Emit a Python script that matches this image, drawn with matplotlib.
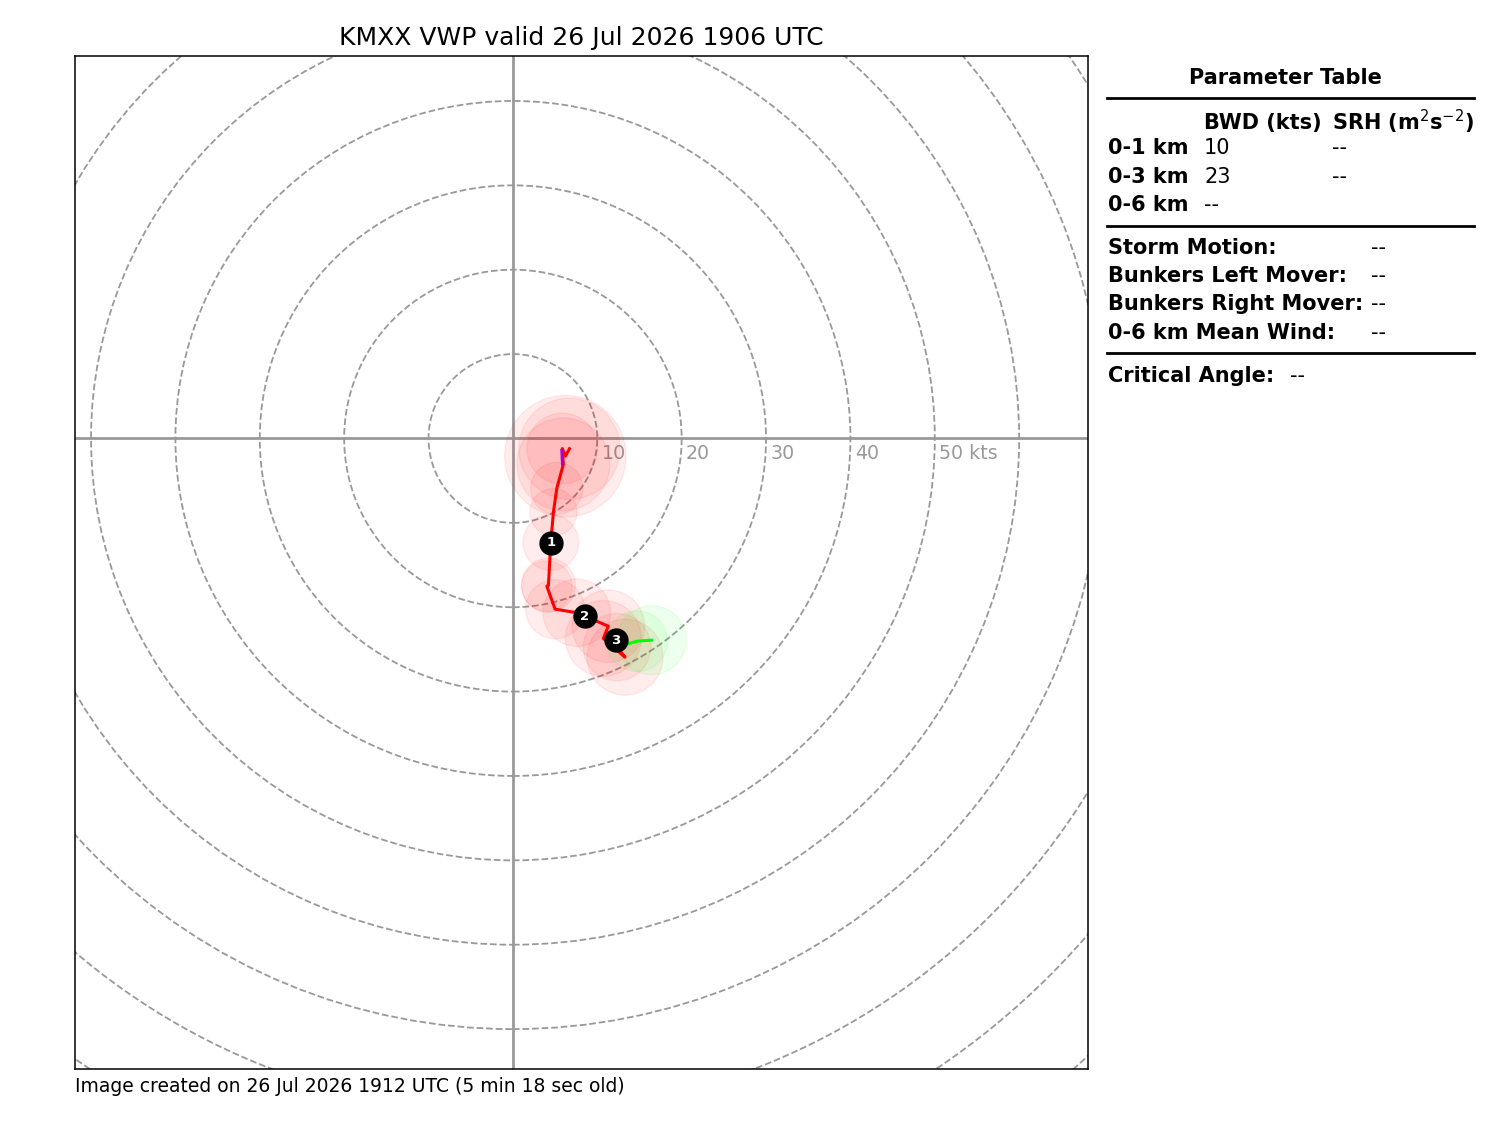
import matplotlib
matplotlib.use("Agg")
import matplotlib.pyplot as plt
from matplotlib.patches import Circle
from matplotlib.lines import Line2D

# ---------------- data (knots) ----------------
red_u = [6.70, 6.22, 5.86, 5.98, 5.20, 4.80, 4.49, 4.21, 4.02, 5.00, 7.57, 11.31, 10.72, 13.29, 12.34]
red_v = [-1.22, -2.10, -1.20, -3.06, -5.93, -8.74, -12.33, -17.39, -17.51, -20.23, -20.65, -22.25, -23.70, -25.92, -24.73]
red_rms = [6.0, 7.2, 4.2, 5.5, 3.1, 2.8, 3.3, 3.2, 3.0, 3.5, 4.0, 4.3, 4.5, 4.5, 4.0]

green_u = [12.34, 14.71, 16.45]
green_v = [-24.73, -24.02, -23.90]
green_rms = [None, 3.6, 4.1]

purple_u = [5.78, 5.86]
purple_v = [-1.40, -3.06]

marker_labels = ["1", "2", "3"]
marker_u = [4.49, 8.55, 12.22]
marker_v = [-12.33, -21.06, -23.90]

ring_radii = list(range(10, 130, 10))
ring_labels = ["10", "20", "30", "40", "50 kts"]

title = "KMXX VWP valid 26 Jul 2026 1906 UTC"
footer = "Image created on 26 Jul 2026 1912 UTC (5 min 18 sec old)"

bwd_rows = ["0-1 km", "0-3 km", "0-6 km"]
bwd_vals = ["10", "23", "--"]
srh_vals = ["--", "--", None]
motion_rows = ["Storm Motion:", "Bunkers Left Mover:", "Bunkers Right Mover:", "0-6 km Mean Wind:"]
motion_vals = ["--", "--", "--", "--"]
crit_label = "Critical Angle:"
crit_val = "--"

# ---------------- figure ----------------
W, H = 1500, 1125
fig = plt.figure(figsize=(15, 11.25), dpi=100)
ax = fig.add_axes([0.05, 0.05, 0.675, 0.9])

ax.set_xlim(-51.9, 68.1)
ax.set_ylim(-74.7, 45.3)
ax.set_aspect('equal', adjustable='box')
ax.set_xticks([])
ax.set_yticks([])
for sp in ax.spines.values():
    sp.set_linewidth(1.1)

ax.axvline(0, color='#999999', lw=2, zorder=1)
ax.axhline(0, color='#999999', lw=2, zorder=1)
for i, r in enumerate(ring_radii):
    ax.add_patch(Circle((0, 0), r, fc='none', ec='#999999', ls='dashed', lw=1.3, zorder=1))
    if i < len(ring_labels):
        ax.text(r + 0.5, -0.6, ring_labels[i], color='#999999', fontsize=13.7,
                ha='left', va='top', zorder=2)

# uncertainty circles
for u, v, r in zip(red_u, red_v, red_rms):
    if r:
        ax.add_patch(Circle((u, v), r, color='r', alpha=0.07, zorder=3))
for u, v, r in zip(green_u, green_v, green_rms):
    if r:
        ax.add_patch(Circle((u, v), r, color='#00ff00', alpha=0.07, zorder=3))

ax.plot(red_u, red_v, color='r', lw=2.2, zorder=4)
ax.plot(green_u, green_v, color='#00ff00', lw=2.2, zorder=4)
ax.plot(purple_u, purple_v, color='#b000c8', lw=2, zorder=4)

for lab, u, v in zip(marker_labels, marker_u, marker_v):
    ax.plot(u, v, 'ko', ms=16.5, zorder=5)
    ax.text(u, v, lab, color='w', fontsize=9.5, fontweight='bold', ha='center', va='center', zorder=6)

ax.set_title(title, fontsize=18, pad=8)

def fx(x):
    return x / W

def fy(y):
    return 1 - y / H

fig.text(fx(75), fy(1087), footer, fontsize=13.5, ha='left', va='center')

# ---------------- parameter table ----------------
fs = 15
fig.text(fx(1285), fy(78), "Parameter Table", fontsize=fs, fontweight='bold', ha='center', va='center')
for y in [98, 226, 353]:
    fig.add_artist(Line2D([fx(1107), fx(1474)], [fy(y), fy(y)], color='k', lw=2))

fig.text(fx(1204), fy(123), "BWD (kts)", fontsize=fs, fontweight='bold', ha='left', va='center')
fig.text(fx(1332), fy(122), r"SRH (m$^2$s$^{-2}$)", fontsize=fs, fontweight='bold', ha='left', va='center')
row_y = [148, 177, 205]
for name, b, s, y in zip(bwd_rows, bwd_vals, srh_vals, row_y):
    fig.text(fx(1108), fy(y), name, fontsize=fs, fontweight='bold', ha='left', va='center')
    fig.text(fx(1204), fy(y), b, fontsize=fs, ha='left', va='center')
    if s is not None:
        fig.text(fx(1332), fy(y), s, fontsize=fs, ha='left', va='center')

mot_y = [248, 276, 304, 333]
for name, val, y in zip(motion_rows, motion_vals, mot_y):
    fig.text(fx(1108), fy(y), name, fontsize=fs, fontweight='bold', ha='left', va='center')
    fig.text(fx(1371), fy(y), val, fontsize=fs, ha='left', va='center')

fig.text(fx(1108), fy(376), crit_label, fontsize=fs, fontweight='bold', ha='left', va='center')
fig.text(fx(1290), fy(376), crit_val, fontsize=fs, ha='left', va='center')

fig.savefig("out.png", dpi=100)
